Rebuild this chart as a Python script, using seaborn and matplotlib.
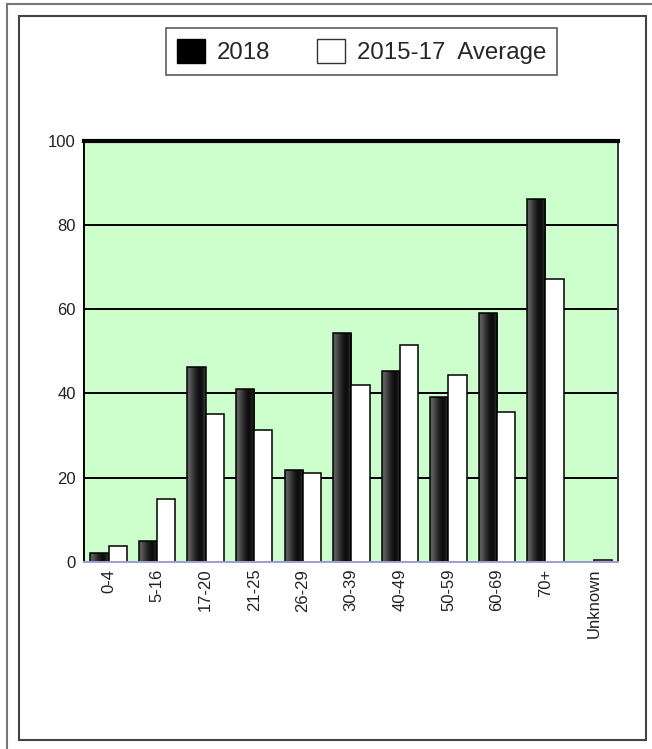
import matplotlib
matplotlib.use("Agg")
import matplotlib.pyplot as plt
from matplotlib.patches import Rectangle
import seaborn as sns
import pandas as pd
import numpy as np

# values
age_groups = ["0-4", "5-16", "17-20", "21-25", "26-29", "30-39",
              "40-49", "50-59", "60-69", "70+", "Unknown"]
values_2018 = [2.0, 4.8, 46.2, 41.0, 21.9, 54.4, 45.4, 39.1, 59.1, 86.2, 0.0]
values_avg = [3.8, 14.8, 35.2, 31.4, 21.0, 41.9, 51.4, 44.3, 35.6, 67.1, 0.5]
series_names = ["2018", "2015-17  Average"]
y_ticks = [0, 20, 40, 60, 80, 100]

df = pd.DataFrame({
    "Age": age_groups * 2,
    "Value": values_2018 + values_avg,
    "Series": [series_names[0]] * len(age_groups) + [series_names[1]] * len(age_groups),
})

sns.set_theme(style="white")
plt.rcParams["font.family"] = ["Liberation Sans", "DejaVu Sans"]

fig = plt.figure(figsize=(6.52, 7.49), dpi=100)
ax = fig.add_axes([84.3 / 652, 1 - 561.7 / 749, (618.3 - 84.3) / 652, (561.7 - 140.7) / 749])

palette = {series_names[0]: "#1a1a1a", series_names[1]: "white"}
sns.barplot(data=df, x="Age", y="Value", hue="Series", palette=palette,
            width=0.75, edgecolor="black", linewidth=1.1, saturation=1,
            legend=False, ax=ax, zorder=2)

# shaded look of the dark bars
prof_x = [0.0, 0.12, 0.45, 0.68, 0.85, 1.0]
prof_v = [0.38, 0.36, 0.14, 0.04, 0.10, 0.28]
grad = np.interp(np.linspace(0, 1, 60), prof_x, prof_v).reshape(1, -1)
for p in list(ax.patches):
    fc = p.get_facecolor()
    if fc[0] < 0.5 and p.get_height() > 0:
        x0, y0 = p.get_x(), p.get_y()
        im = ax.imshow(grad, extent=[x0, x0 + p.get_width(), y0, y0 + p.get_height()],
                       cmap="gray", vmin=0, vmax=1, aspect="auto",
                       interpolation="bilinear", zorder=1.9)
        im.set_clip_path(p)
        p.set_facecolor("none")

ax.set_xlim(-0.5, len(age_groups) - 0.5)
ax.set_ylim(0, 100)
ax.set_yticks(y_ticks)
ax.set_facecolor("#ccffcc")
ax.set_xlabel("")
ax.set_ylabel("")
ax.set_axisbelow(True)
ax.yaxis.grid(True, color="black", linewidth=1.4)
ax.xaxis.grid(False)

ax.tick_params(axis="y", length=0, pad=6, labelsize=12, labelcolor="#222222")
ax.tick_params(axis="x", length=0, pad=5, labelsize=12, labelcolor="#222222",
               labelrotation=90)

ax.spines["top"].set_linewidth(3)
ax.spines["top"].set_color("black")
ax.spines["left"].set_linewidth(1.4)
ax.spines["left"].set_color("black")
ax.spines["right"].set_linewidth(1.4)
ax.spines["right"].set_color("#333333")
ax.spines["bottom"].set_linewidth(1.4)
ax.spines["bottom"].set_color("#a0a0d8")

# legend box
handles = [Rectangle((0, 0), 1, 1, facecolor="black", edgecolor="black"),
           Rectangle((0, 0), 1, 1, facecolor="white", edgecolor="#333333")]
leg = fig.legend(handles, series_names, loc="center",
                 bbox_to_anchor=((163 + 560) / 2 / 652, 1 - 51.5 / 749),
                 ncol=2, frameon=True, fancybox=False, fontsize=17.3,
                 handlelength=1.17, handleheight=1.17, handletextpad=0.5,
                 columnspacing=1.95, borderpad=0.45, borderaxespad=0)
leg.get_frame().set_edgecolor("#333333")
leg.get_frame().set_linewidth(1.2)

# outer frames
fig.patches.append(Rectangle((7 / 652, -0.01), 1.0, 1 - 4 / 749 + 0.01,
                             transform=fig.transFigure, fill=False,
                             edgecolor="#777777", linewidth=1.5))
fig.patches.append(Rectangle((19 / 652, 1 - 740 / 749), (646 - 19) / 652, (740 - 16) / 749,
                             transform=fig.transFigure, fill=False,
                             edgecolor="#444444", linewidth=1.5))

fig.savefig("out.png", dpi=100)
